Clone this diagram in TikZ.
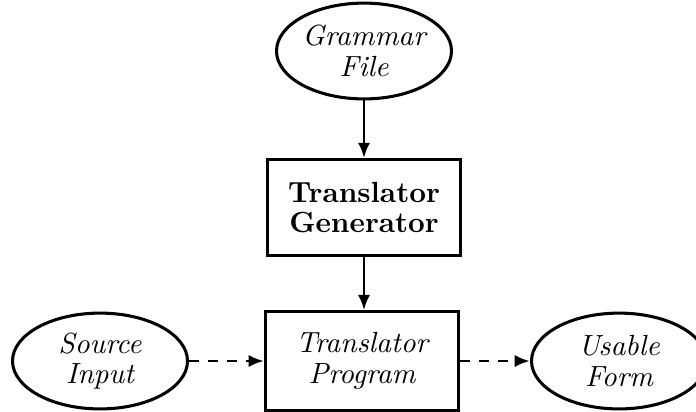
\documentclass[tikz,border=0pt]{standalone}
\usetikzlibrary{shapes.geometric,arrows.meta}
\begin{document}
\begin{tikzpicture}[x=0.36pt,y=-0.36pt,
  oval/.style={ellipse, draw, line width=1.1pt, minimum width=63pt, minimum height=34.5pt,
    inner sep=0pt, align=center, font=\itshape\fontsize{10.5}{11}\selectfont},
  procbox/.style={rectangle, draw, line width=1.1pt, minimum width=69.5pt, minimum height=34.5pt,
    inner sep=0pt, align=center},
  flow/.style={-{Latex[length=5.5pt,width=4.4pt]}, line width=1pt},
  dflow/.style={flow, dash pattern=on 3.6pt off 3.2pt}]
\useasboundingbox (0,0) rectangle (696,411);
\node[oval] (gram) at (364,51) {Grammar\\File};
\node[procbox, font=\bfseries\fontsize{10.5}{11}\selectfont] (gen) at (364,207.5) {Translator\\Generator};
\node[procbox, minimum height=35.5pt, font=\itshape\fontsize{10.5}{11}\selectfont] (prog) at (362,361) {Translator\\Program};
\node[oval] (src) at (100,361) {Source\\Input};
\node[oval] (use) at (619,361) {Usable\\Form};
\draw[flow] (gram.south) -- (gen.north);
\draw[flow] (gen.south) -- (gen.south |- prog.north);
\draw[dflow] (src.east) -- (prog.west);
\draw[dflow] (prog.east) -- (use.west);
\end{tikzpicture}
\end{document}
